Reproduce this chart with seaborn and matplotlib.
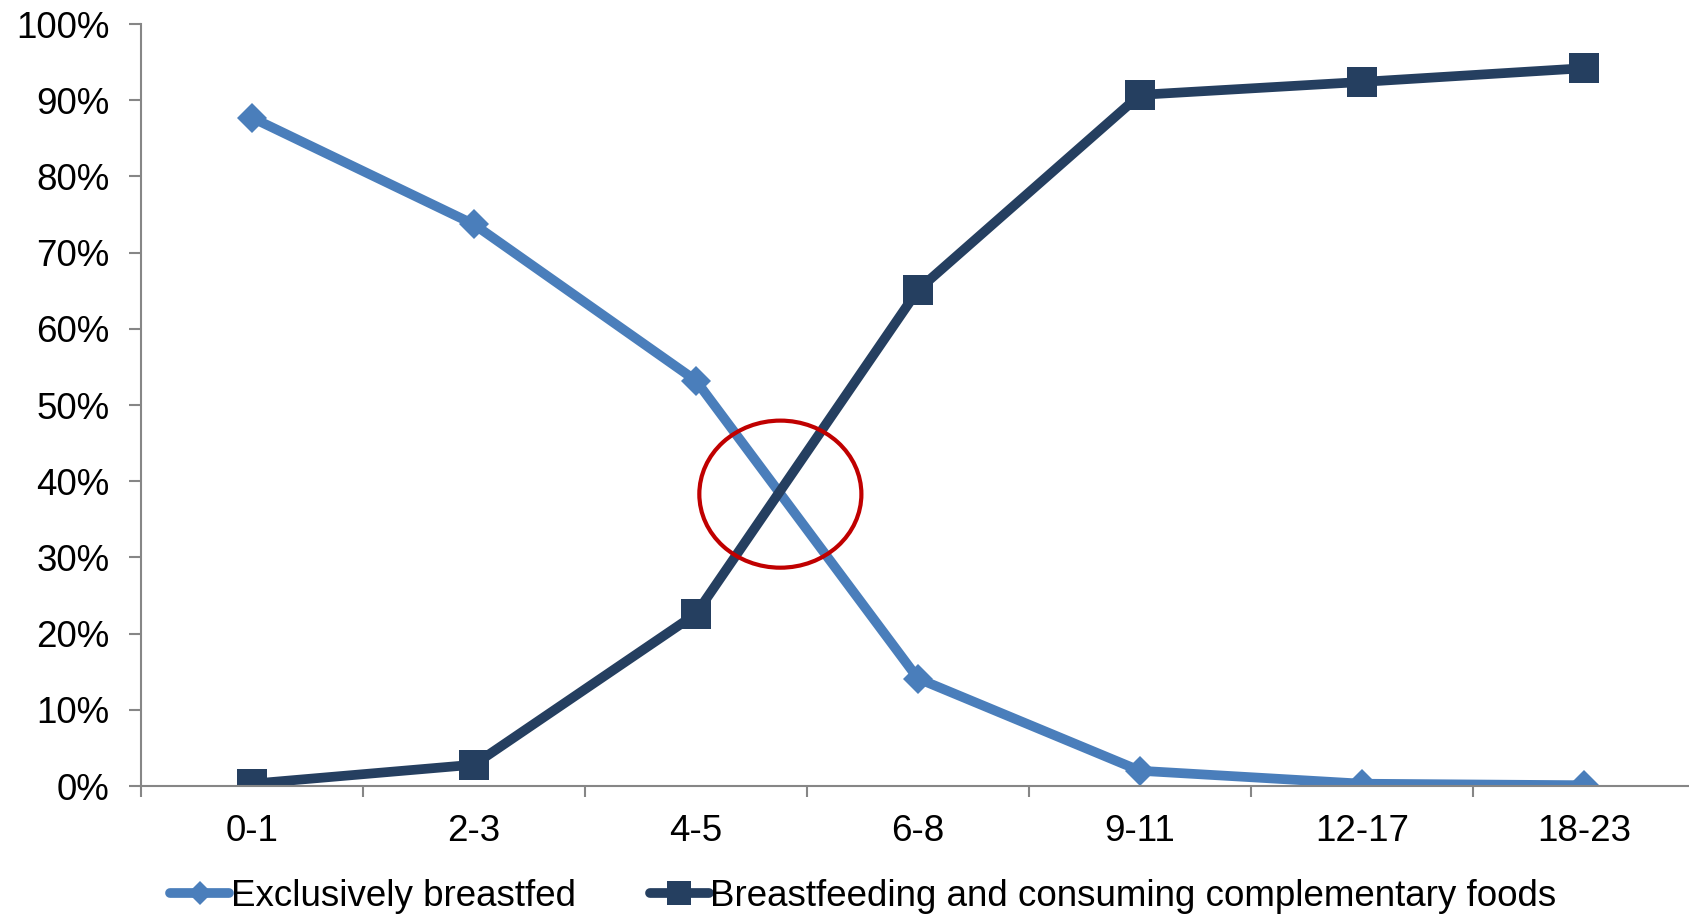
import matplotlib
matplotlib.use("Agg")
import matplotlib.pyplot as plt
from matplotlib.patches import Ellipse
from matplotlib.ticker import FixedLocator, PercentFormatter
import seaborn as sns
import pandas as pd

# Age groups (months)
age_groups = ["0-1", "2-3", "4-5", "6-8", "9-11", "12-17", "18-23"]

# Share of children (%) by feeding practice
exclusively_breastfed = [87.7, 73.7, 53.2, 14.1, 2.0, 0.3, 0.1]
complementary_foods = [0.3, 2.8, 22.6, 65.1, 90.7, 92.4, 94.2]

series_names = ["Exclusively breastfed",
                "Breastfeeding and consuming complementary foods"]
y_ticks = [0, 10, 20, 30, 40, 50, 60, 70, 80, 90, 100]

# Highlight around the crossover point (centre in category/percent units)
highlight_center = (2.38, 38.3)
highlight_width = 0.73
highlight_height = 19.3

light_blue = "#4A7EBB"
navy = "#253F60"
axis_grey = "#868686"
font_size = 26.5

sns.set_theme(style="white")
plt.rcParams["font.family"] = ["Liberation Sans", "DejaVu Sans"]
plt.rcParams["text.color"] = "black"

df_excl = pd.DataFrame({"age": age_groups, "value": exclusively_breastfed})
df_comp = pd.DataFrame({"age": age_groups, "value": complementary_foods})

fig = plt.figure(figsize=(16.9, 9.17), dpi=100)
ax = fig.add_axes([141 / 1690, 131 / 917, 1554 / 1690, 762 / 917])

sns.lineplot(data=df_excl, x="age", y="value", ax=ax, color=light_blue,
             lw=7, marker="D", markersize=15.5, markeredgewidth=0,
             label=series_names[0], sort=False, solid_capstyle="round")
sns.lineplot(data=df_comp, x="age", y="value", ax=ax, color=navy,
             lw=7, marker="s", markersize=21.5, markeredgewidth=0,
             label=series_names[1], sort=False, solid_capstyle="round")

ax.add_patch(Ellipse(highlight_center, highlight_width, highlight_height,
                     fill=False, edgecolor="#C00000", lw=3.0, zorder=5))

ax.set_xlim(-0.5, len(age_groups) - 0.5)
ax.set_ylim(0, 100)
ax.set_xlabel("")
ax.set_ylabel("")

ax.yaxis.set_major_locator(FixedLocator(y_ticks))
ax.yaxis.set_major_formatter(PercentFormatter(decimals=0))
ax.xaxis.set_minor_locator(FixedLocator([i - 0.5 for i in range(len(age_groups) + 1)]))

for side in ("top", "right"):
    ax.spines[side].set_visible(False)
for side in ("left", "bottom"):
    ax.spines[side].set_color(axis_grey)
    ax.spines[side].set_linewidth(1.5)

ax.tick_params(axis="y", which="major", direction="out", length=8.5, width=1.5,
               color=axis_grey, labelsize=font_size, labelcolor="black",
               pad=14, left=True)
ax.tick_params(axis="x", which="major", length=0, labelsize=font_size,
               labelcolor="black", pad=20)
ax.tick_params(axis="x", which="minor", direction="out", length=8, width=1.5,
               color=axis_grey, bottom=True)

ax.get_legend().remove()
handles, labels = ax.get_legend_handles_labels()
leg = fig.legend(handles, labels, loc="center", bbox_to_anchor=(0.511, 0.0229),
                 ncol=2, frameon=False, fontsize=font_size, handlelength=1.6,
                 handletextpad=0.05, columnspacing=2.0, markerscale=0.8)
for txt in leg.get_texts():
    txt.set_color("black")

fig.savefig("out.png", dpi=100)
